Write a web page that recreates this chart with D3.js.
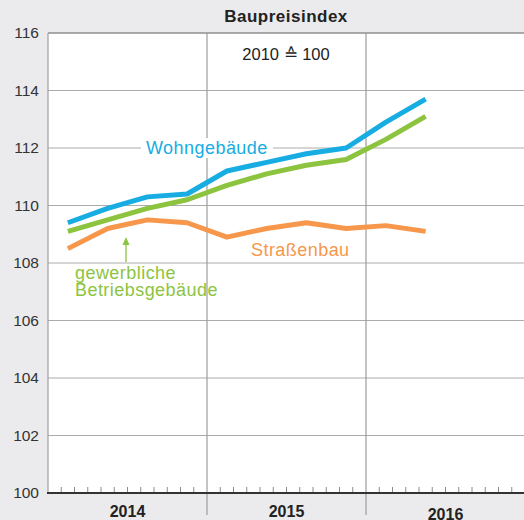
<!DOCTYPE html>
<html>
<head>
<meta charset="utf-8">
<script src="https://cdn.jsdelivr.net/npm/d3@7"></script>
<style>
  html, body { margin: 0; padding: 0; background: #ebebed; }
  svg { display: block; font-family: "Liberation Sans", Arial, Helvetica, sans-serif; }
</style>
</head>
<body>
<svg id="chart" width="524" height="520"></svg>
<script>
// Quarterly construction price index, 2010 = 100
const quarters = ["2014 Q1","2014 Q2","2014 Q3","2014 Q4","2015 Q1","2015 Q2","2015 Q3","2015 Q4","2016 Q1","2016 Q2"];
const wohngebaeude = [109.4, 109.9, 110.3, 110.4, 111.2, 111.5, 111.8, 112.0, 112.9, 113.7];
const gewerblich   = [109.1, 109.5, 109.9, 110.2, 110.7, 111.1, 111.4, 111.6, 112.3, 113.1];
const strassenbau  = [108.5, 109.2, 109.5, 109.4, 108.9, 109.2, 109.4, 109.2, 109.3, 109.1];
const years = ["2014", "2015", "2016"];
const yTicks = [100, 102, 104, 106, 108, 110, 112, 114, 116];

const svg = d3.select("#chart");
const plotLeft = 48, plotRight = 525, plotTop = 33, plotBottom = 493;

// months since Jan 2014
const x = d3.scaleLinear().domain([0, 36]).range([plotLeft, plotRight]);
const y = d3.scaleLinear().domain([100, 116]).range([plotBottom, plotTop]);
const qx = i => x(i * 3 + 1.5);

// plot background
svg.append("rect").attr("x", plotLeft).attr("y", plotTop)
  .attr("width", plotRight - plotLeft).attr("height", plotBottom - plotTop).attr("fill", "#fff");

// horizontal gridlines
svg.append("g").selectAll("line").data(yTicks.filter(d => d > 100 && d < 116)).join("line")
  .attr("x1", plotLeft).attr("x2", plotRight)
  .attr("y1", d => y(d)).attr("y2", d => y(d))
  .attr("stroke", "#ababab").attr("stroke-width", 1.2);

// top frame and left frame
svg.append("line").attr("x1", plotLeft).attr("x2", plotRight).attr("y1", y(116)).attr("y2", y(116))
  .attr("stroke", "#8f8f8f").attr("stroke-width", 1.5);
svg.append("line").attr("x1", plotLeft).attr("x2", plotLeft).attr("y1", plotTop).attr("y2", plotBottom)
  .attr("stroke", "#a0a0a0").attr("stroke-width", 1.2);

// year separators, reaching into the label band
svg.append("g").selectAll("line").data([12, 24]).join("line")
  .attr("x1", d => x(d)).attr("x2", d => x(d))
  .attr("y1", plotTop).attr("y2", 515)
  .attr("stroke", "#9d9d9d").attr("stroke-width", 1.2);

// monthly minor ticks
svg.append("g").selectAll("line").data(d3.range(1, 36).filter(m => m % 12 !== 0)).join("line")
  .attr("x1", d => x(d)).attr("x2", d => x(d))
  .attr("y1", plotBottom - 6).attr("y2", plotBottom)
  .attr("stroke", "#8a8a8a").attr("stroke-width", 1);

// baseline axis
svg.append("line").attr("x1", plotLeft - 1).attr("x2", plotRight).attr("y1", plotBottom).attr("y2", plotBottom)
  .attr("stroke", "#333").attr("stroke-width", 2);

// y labels
const yAxis = d3.axisLeft(y).tickValues(yTicks).tickSize(0).tickPadding(9).tickFormat(d3.format("d"));
const ga = svg.append("g").attr("transform", `translate(${plotLeft},0)`).call(yAxis);
ga.select(".domain").remove();
ga.selectAll("text").attr("font-size", 15.5).attr("fill", "#333")
  .attr("font-family", "Liberation Sans, Arial, sans-serif");

// year labels
svg.append("g").selectAll("text").data(years).join("text")
  .attr("x", (d, i) => x(i * 12 + 6))
  .attr("y", (d, i) => i === 2 ? 520 : 517)
  .attr("text-anchor", "middle").attr("font-size", 16).attr("font-weight", "bold").attr("fill", "#222")
  .text(d => d);

// titles
svg.append("text").attr("x", 286).attr("y", 22).attr("text-anchor", "middle")
  .attr("font-size", 17).attr("letter-spacing", 0.5).attr("font-weight", "bold").attr("fill", "#222")
  .text("Baupreisindex");
svg.append("text").attr("x", 286).attr("y", 60).attr("text-anchor", "middle")
  .attr("font-size", 16.5).attr("fill", "#222").text("2010 ≙ 100");

// series lines
const line = d3.line().x((d, i) => qx(i)).y(d => y(d));
const series = [
  { values: strassenbau, color: "#f7974b" },
  { values: gewerblich, color: "#8cc43f" },
  { values: wohngebaeude, color: "#17ade2" }
];
svg.append("g").selectAll("path").data(series).join("path")
  .attr("d", d => line(d.values))
  .attr("fill", "none").attr("stroke", d => d.color)
  .attr("stroke-width", 5).attr("stroke-linejoin", "round");

// series labels
const labelStyle = sel => sel.attr("font-size", 18).attr("letter-spacing", 0.45);
svg.append("rect").attr("x", 141).attr("y", 138).attr("width", 132).attr("height", 20).attr("fill", "#fff");
svg.append("text").attr("x", 146).attr("y", 154).attr("fill", "#17ade2").call(labelStyle).text("Wohngebäude");
svg.append("text").attr("x", 251).attr("y", 256).attr("fill", "#f7974b").call(labelStyle).text("Straßenbau");
svg.append("text").attr("x", 75).attr("y", 278.5).attr("fill", "#8cc43f").call(labelStyle).text("gewerbliche");
svg.append("text").attr("x", 75).attr("y", 295.5).attr("fill", "#8cc43f").call(labelStyle).text("Betriebsgebäude");

// pointer arrow to the commercial-buildings line
svg.append("line").attr("x1", 126).attr("x2", 126).attr("y1", 262).attr("y2", 243)
  .attr("stroke", "#8cc43f").attr("stroke-width", 1.3);
svg.append("path").attr("d", "M122.5,245 L126,237 L129.5,245 Z").attr("fill", "#8cc43f");
</script>
</body>
</html>
